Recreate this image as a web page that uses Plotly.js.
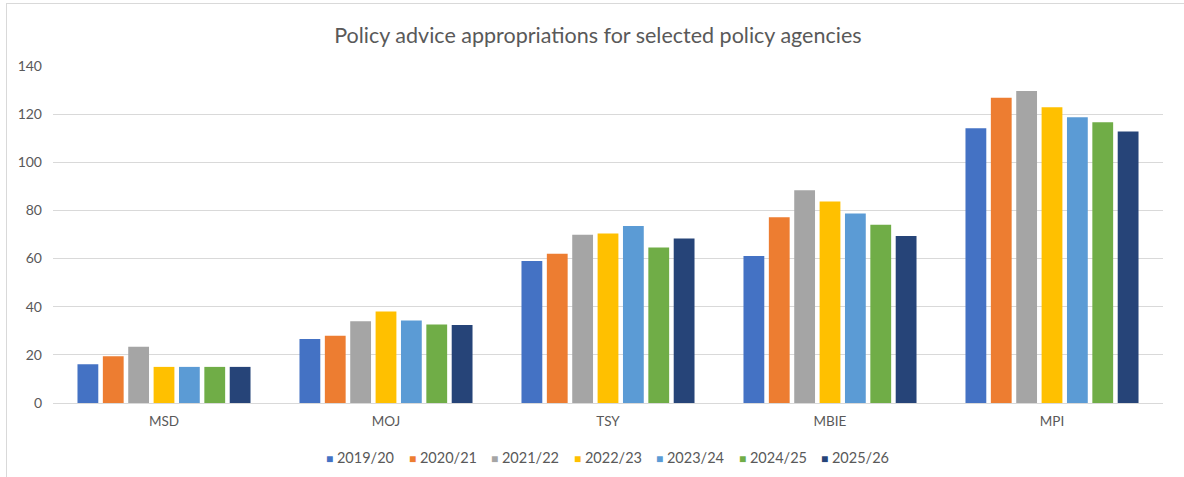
<!DOCTYPE html>
<html>
<head>
<meta charset="utf-8">
<script src="https://cdn.plot.ly/plotly-3.0.1.min.js"></script>
<style>
  html, body { margin: 0; padding: 0; background: #ffffff; }
  #wrap { position: relative; width: 1184px; height: 477px; overflow: hidden; }
  #frame { position: absolute; left: 6px; top: 3px; width: 1200px; height: 500px;
           border-left: 1px solid #d9d9d9; border-top: 1px solid #d9d9d9; pointer-events: none; }
  #chart { position: absolute; left: 0; top: 0; width: 1184px; height: 477px; }
</style>
</head>
<body>
<div id="wrap">
  <div id="chart"></div>
  <div id="frame"></div>
</div>
<script>
const agencies = ["MSD", "MOJ", "TSY", "MBIE", "MPI"];
const years = ["2019/20", "2020/21", "2021/22", "2022/23", "2023/24", "2024/25", "2025/26"];
const colors = ["#4472C4", "#ED7D31", "#A5A5A5", "#FFC000", "#5B9BD5", "#70AD47", "#264478"];

const v2019_20 = [16.1, 26.6, 59.0, 61.1, 114.1];
const v2020_21 = [19.4, 27.9, 62.0, 77.2, 126.8];
const v2021_22 = [23.4, 34.0, 69.9, 88.4, 129.6];
const v2022_23 = [15.0, 38.0, 70.4, 83.7, 122.9];
const v2023_24 = [15.0, 34.3, 73.5, 78.7, 118.7];
const v2024_25 = [15.0, 32.6, 64.6, 74.0, 116.6];
const v2025_26 = [15.0, 32.4, 68.3, 69.4, 112.8];
const series = [v2019_20, v2020_21, v2021_22, v2022_23, v2023_24, v2024_25, v2025_26];

const FONT = "Lato, 'Open Sans', sans-serif";
const traces = series.map((vals, i) => ({
  type: "bar",
  name: years[i],
  x: agencies,
  y: vals,
  marker: { color: colors[i] },
  hoverinfo: "x+y+name"
}));

// Legend drawn as annotations (compact Excel-like spacing)
const PLOT_L = 53, PLOT_W = 1110, PLOT_H = 337;
const legendStartPx = 324, legendStepPx = 82.5, legendYPx = 54; // px below the x axis
const legendAnns = years.map((yr, i) => ({
  xref: "paper", yref: "paper",
  x: (legendStartPx - PLOT_L + i * legendStepPx) / PLOT_W,
  y: -legendYPx / PLOT_H,
  xanchor: "left", yanchor: "middle",
  showarrow: false,
  text: '<span style="color:' + colors[i] + ';font-size:12px">\u25A0</span> ' + yr,
  font: { family: FONT, size: 14.5, color: "#595959" }
}));

const layout = {
  width: 1184,
  height: 477,
  margin: { l: PLOT_L, r: 21, t: 66, b: 74 },
  paper_bgcolor: "rgba(0,0,0,0)",
  plot_bgcolor: "#ffffff",
  barmode: "group",
  bargap: 0.2,
  bargroupgap: 0.18,
  title: {
    text: "Policy advice appropriations for selected policy agencies",
    font: { family: FONT, size: 21.5, color: "#595959" },
    x: 0.505, xanchor: "center",
    y: 0.925, yanchor: "middle"
  },
  font: { family: FONT, size: 13, color: "#595959" },
  xaxis: {
    type: "category",
    showgrid: false,
    showline: true,
    linecolor: "#d9d9d9",
    linewidth: 1,
    ticks: "",
    ticklabelstandoff: 6,
    tickfont: { family: FONT, size: 13.5, color: "#595959" }
  },
  yaxis: {
    range: [0, 140],
    tick0: 0,
    dtick: 20,
    showgrid: true,
    gridcolor: "#d9d9d9",
    gridwidth: 1,
    zeroline: false,
    showline: false,
    ticks: "",
    ticklabelstandoff: 10,
    tickfont: { family: FONT, size: 14, color: "#595959" }
  },
  showlegend: false,
  annotations: legendAnns
};

Plotly.newPlot("chart", traces, layout, { displayModeBar: false, staticPlot: true });
</script>
</body>
</html>
